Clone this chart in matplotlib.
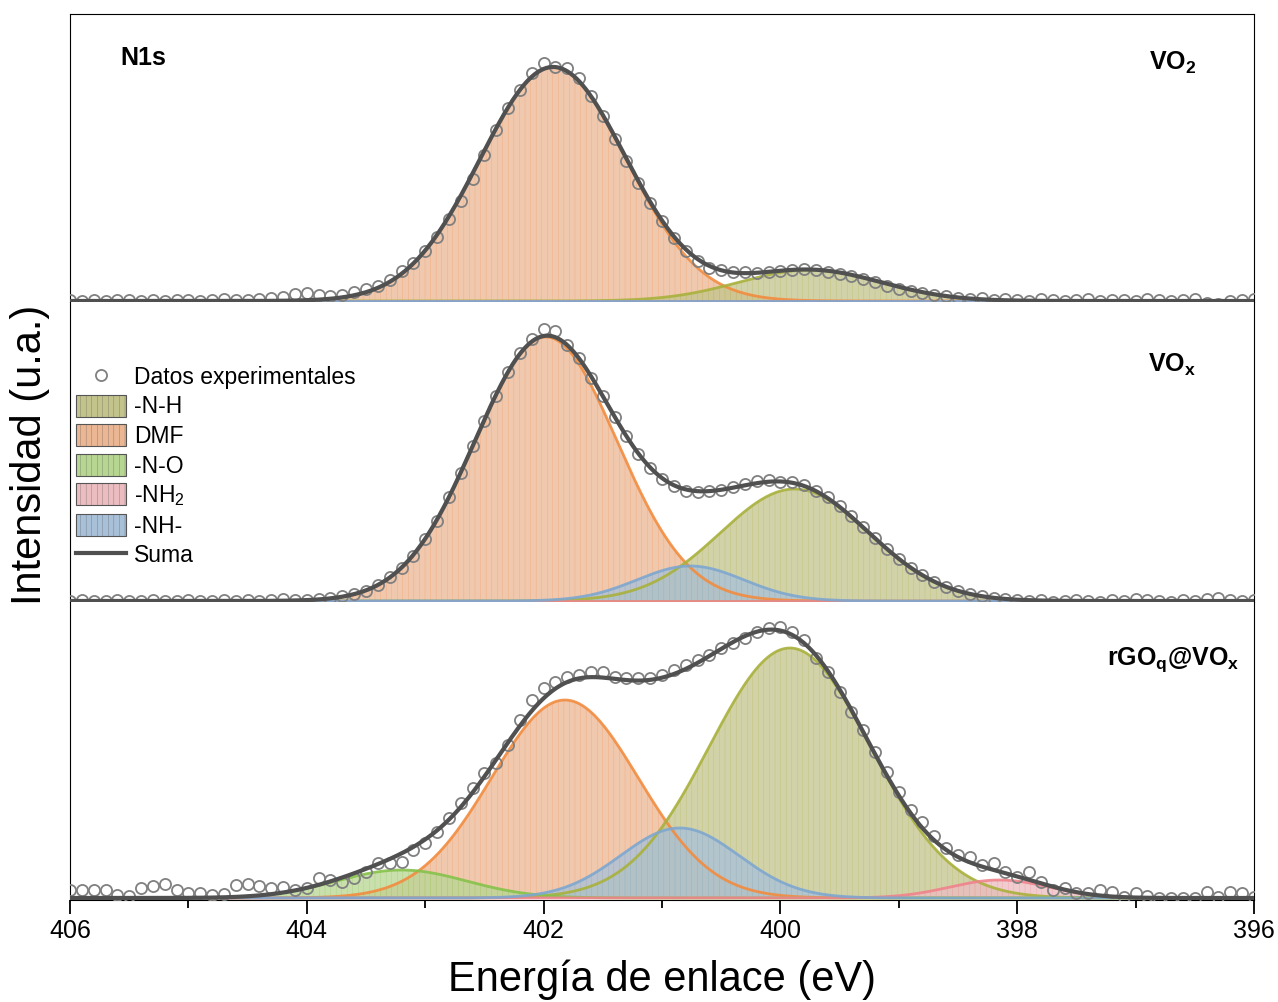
import numpy as np
import matplotlib
matplotlib.use('Agg')
import matplotlib.pyplot as plt
from matplotlib.patches import Patch
from matplotlib.lines import Line2D

plt.rcParams['font.family'] = ['Liberation Sans', 'DejaVu Sans']
plt.rcParams['mathtext.fontset'] = 'custom'
plt.rcParams['mathtext.rm'] = 'Liberation Sans'
plt.rcParams['mathtext.bf'] = 'Liberation Sans:bold'
plt.rcParams['hatch.linewidth'] = 0.2

# binding energy of the measured points (eV)
energy = np.linspace(406, 396, 101)

vo2_counts = [1, 0, 1, 0, 1, 1, 0, 1, 0, 1,
              1, 0, 1, 2, 1, 1, 2, 3, 4, 7,
              8, 6, 5, 6, 9, 12, 15, 21, 30, 38,
              50, 64, 82, 100, 122, 146, 171, 193, 211, 228,
              238, 234, 233, 223, 205, 185, 162, 140, 118, 98,
              80, 63, 50, 40, 33, 31, 29, 29, 28, 29,
              30, 31, 32, 31, 29, 27, 25, 22, 19, 15,
              12, 10, 8, 6, 5, 3, 2, 3, 1, 2,
              1, 0, 2, 1, 0, 1, 2, 0, 1, 1,
              0, 2, 1, 0, 1, 2, -2, -3, 0, 1, 2]
vox_counts = [0, 1, 0, 0, 1, 0, 0, 1, 0, 0,
              1, 0, 0, 1, 0, 1, 0, 1, 2, 1,
              1, 2, 3, 5, 7, 10, 16, 24, 33, 45,
              62, 80, 104, 128, 155, 180, 205, 229, 248, 262,
              272, 270, 256, 243, 223, 205, 184, 165, 147, 133,
              122, 115, 110, 109, 110, 111, 114, 117, 120, 121,
              119, 119, 116, 110, 104, 95, 85, 74, 63, 52,
              42, 33, 26, 19, 14, 10, 7, 5, 3, 2,
              1, 0, 1, -1, 0, 1, 0, -1, 1, 0,
              2, 1, 0, -1, 1, 0, 2, 3, 1, 0, 1]
rgo_counts = [8, 8, 8, 8, 3, 2, 10, 12, 14, 8,
              5, 5, 3, 4, 13, 14, 12, 10, 11, 8,
              10, 20, 18, 16, 20, 26, 35, 35, 36, 48,
              55, 66, 80, 95, 110, 125, 135, 153, 178, 198,
              210, 216, 221, 223, 226, 226, 221, 220, 220, 220,
              223, 228, 233, 238, 243, 250, 255, 260, 266, 270,
              271, 266, 258, 240, 226, 206, 186, 168, 146, 126,
              106, 88, 76, 62, 50, 43, 41, 33, 35, 26,
              21, 26, 16, 8, 10, 5, 5, 8, 6, 1,
              5, 2, 0, 0, 0, 0, 6, 1, 6, 5, 1]

# fitted components: centre (eV), height (u.a.), sigma (eV)
# order: -N-H, DMF, -N-O, -NH2, -NH-
names = ['-N-H', 'DMF', '-N-O', '-NH$_2$', '-NH-']
vo2_center = [399.75, 401.92, 403.2, 398.15, 400.8]
vo2_height = [31, 234, 0, 0, 0]
vo2_sigma = [0.6, 0.617, 0.5, 0.4, 0.45]

vox_center = [399.88, 401.98, 403.2, 398.15, 400.76]
vox_height = [112, 264, 0, 0, 35]
vox_sigma = [0.63, 0.6, 0.5, 0.4, 0.45]

rgo_center = [399.92, 401.82, 403.2, 398.15, 400.85]
rgo_height = [250, 198, 28, 18, 70]
rgo_sigma = [0.68, 0.62, 0.55, 0.42, 0.5]

line_colors = ['#a9b13c', '#f28c3f', '#86c24a', '#f0838c', '#7ea7cf']
fill_colors = ['#c3c48c', '#ebb693', '#b7d692', '#ebbcc0', '#a8c0d8']
draw_order = [1, 0, 2, 3, 4]


def gauss(x, c, h, s):
    return h*np.exp(-(x - c)**2/(2*s**2))


fig = plt.figure(figsize=(12.78, 10.02), dpi=100)
gs = fig.add_gridspec(3, 1, height_ratios=[288, 300, 298], hspace=0,
                      left=70/1278, right=1254/1278, bottom=102/1002, top=988/1002)
axes = [fig.add_subplot(gs[i]) for i in range(3)]

panels = [(vo2_counts, vo2_center, vo2_height, vo2_sigma, (-1, 287)),
          (vox_counts, vox_center, vox_height, vox_sigma, (-1, 299)),
          (rgo_counts, rgo_center, rgo_height, rgo_sigma, (-2, 296))]

x = np.linspace(406, 396, 800)
for ax, (counts, cen, hei, sig, ylim) in zip(axes, panels):
    total = np.zeros_like(x)
    for k in draw_order:
        y = gauss(x, cen[k], hei[k], sig[k])
        total += y
        ax.fill_between(x, 0, y, facecolor=fill_colors[k], alpha=0.75,
                        edgecolor=line_colors[k], hatch='|||', lw=0, zorder=2)
        ax.plot(x, y, color=line_colors[k], lw=2, alpha=0.9, zorder=3)
    ax.plot(energy, counts, 'o', mfc='none', mec='#808080', ms=8, mew=1.3, zorder=4)
    ax.plot(x, total, color='#505050', lw=3, zorder=5)
    ax.set_xlim(406, 396)
    ax.set_ylim(*ylim)
    ax.set_yticks([])
    ax.tick_params(axis='x', which='both', labelbottom=False, bottom=False)

for ax in axes[:-1]:
    ax.spines['bottom'].set_visible(False)
for ax in axes[1:]:
    ax.spines['top'].set_visible(False)

axb = axes[-1]
axb.set_xticks([406, 404, 402, 400, 398, 396])
axb.set_xticks([405, 403, 401, 399, 397], minor=True)
axb.tick_params(axis='x', which='both', bottom=True, labelbottom=True, direction='out',
                labelsize=18, width=1.3)
axb.tick_params(axis='x', which='major', length=10)
axb.tick_params(axis='x', which='minor', length=6)
axb.set_xlabel('Energía de enlace (eV)', fontsize=30, labelpad=12)

fig.text(30/1278, 1 - 455/1002, 'Intensidad (u.a.)', rotation=90, fontsize=30,
         ha='center', va='center')

fig.text(120/1278, 1 - 58/1002, 'N1s', fontsize=18, fontweight='bold', ha='left', va='center')
axes[0].text(0.931, 0.83, r'$\mathbf{VO_2}$', transform=axes[0].transAxes, fontsize=18,
             ha='center', va='center')
axes[1].text(0.931, 0.79, r'$\mathbf{VO_x}$', transform=axes[1].transAxes, fontsize=18,
             ha='center', va='center')
axes[2].text(0.988, 0.805, r'$\mathbf{rGO_q@VO_x}$', transform=axes[2].transAxes, fontsize=18,
             ha='right', va='center')

handles = [Line2D([], [], marker='o', ls='none', mfc='none', mec='#808080', ms=8, mew=1.3)]
for k in range(5):
    handles.append(Patch(facecolor=fill_colors[k], edgecolor='#555555', hatch='|||', lw=0.8))
handles.append(Line2D([], [], color='#505050', lw=3))
labels = ['Datos experimentales'] + names + ['Suma']
axes[1].legend(handles, labels, loc='upper left', bbox_to_anchor=(-0.003, 0.82), frameon=False,
               fontsize=16.5, handlelength=2.2, handleheight=1.1, labelspacing=0.25,
               handletextpad=0.35, borderaxespad=0)

fig.savefig('out.png', dpi=100)
